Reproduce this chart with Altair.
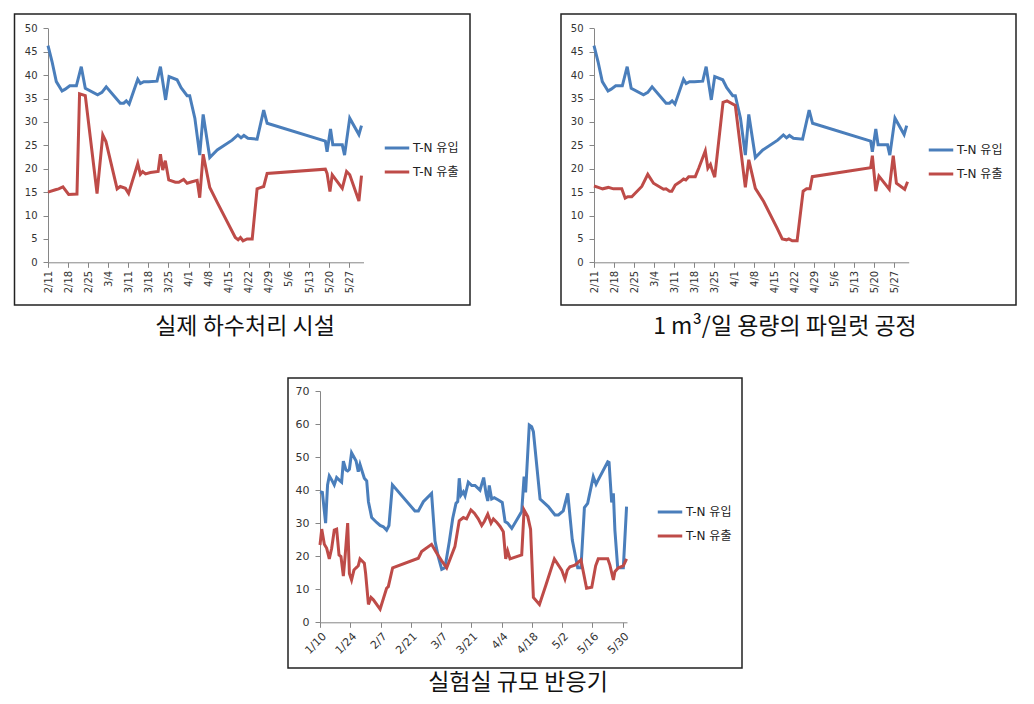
import altair as alt
import pandas as pd

# ---------------- data ----------------
YEAR = 2009
series_names = ["T-N 유입", "T-N 유출"]
captions = ["실제 하수처리 시설", "1 m³/일 용량의 파일럿 공정", "실험실 규모 반응기"]

# top panels: date axis 2/11 .. 6/1, tick every 7 days
plant_start, plant_end = "2/11", "6/1"
plant_ticks = ["2/11", "2/18", "2/25", "3/4", "3/11", "3/18", "3/25", "4/1",
               "4/8", "4/15", "4/22", "4/29", "5/6", "5/13", "5/20", "5/27"]
plant_y_ticks = [0, 5, 10, 15, 20, 25, 30, 35, 40, 45, 50]

# influent (same for full-scale plant and pilot), days after 2/11
inflow_days = [0, 1.4, 2.9, 4.9, 6.0, 7.6, 9.9, 11.6, 13.0, 17.3,
               18.8, 20.3, 25.2, 26.4, 27.3, 28.3, 31.3, 32.2, 33.4, 35.1,
               38.0, 39.2, 41.0, 42.2, 45.0, 46.4, 48.5, 49.4, 51.2, 52.9,
               54.1, 56.4, 59.0, 64.2, 66.2, 67.3, 68.3, 69.7, 72.9, 75.2,
               76.4, 96.7, 97.3, 98.5, 99.3, 102.6, 103.4, 105.2, 108.4, 109.3]
inflow_vals = [46.3, 42.9, 38.6, 36.6, 37.0, 37.7, 37.7, 41.8, 37.2, 35.8,
               36.3, 37.5, 34.0, 34.0, 34.5, 33.8, 39.1, 38.2, 38.6, 38.6,
               38.7, 41.8, 34.7, 39.7, 39.0, 37.3, 35.6, 35.6, 30.8, 22.9,
               31.6, 22.4, 24.0, 26.1, 27.2, 26.6, 27.1, 26.5, 26.3, 32.5,
               29.7, 25.9, 23.6, 28.5, 25.1, 25.1, 22.9, 30.8, 27.3, 29.2]

# effluent, full-scale plant
plant_out_days = [0, 2.6, 3.7, 5.2, 7.2, 10.1, 11.0, 13.0, 17.1, 19.1,
                  20.2, 24.1, 25.2, 27.0, 28.1, 31.3, 32.2, 33.0, 34.0, 35.7,
                  38.4, 39.2, 40.0, 40.9, 42.1, 44.4, 45.6, 47.3, 48.5, 50.2,
                  52.0, 52.9, 54.1, 56.4, 59.0, 65.3, 66.3, 67.1, 68.0, 69.4,
                  71.2, 72.9, 74.3, 75.2, 76.4, 96.7, 97.3, 98.3, 99.1, 102.6,
                  104.1, 105.2, 108.4, 109.3]
plant_out_vals = [15.0, 15.5, 15.7, 16.1, 14.5, 14.6, 36.0, 35.6, 14.7, 27.2,
                  25.8, 15.7, 16.2, 15.8, 14.7, 21.1, 18.8, 19.4, 18.9, 19.2,
                  19.4, 23.1, 19.7, 21.7, 17.6, 17.1, 17.1, 17.7, 16.9, 17.2,
                  17.5, 13.8, 23.1, 16.0, 12.8, 5.3, 4.8, 5.3, 4.6, 5.0,
                  5.0, 15.7, 16.0, 16.2, 19.0, 19.9, 19.0, 15.1, 18.7, 15.8,
                  19.4, 18.7, 13.1, 18.5]

# effluent, 1 m3/day pilot
pilot_out_days = [0, 1.5, 3.0, 5.0, 6.8, 9.7, 10.9, 11.8, 13.2, 16.7,
                  18.8, 20.8, 24.3, 25.2, 26.4, 27.2, 28.4, 30.1, 31.3, 32.1,
                  33.1, 35.4, 36.6, 38.9, 39.8, 40.7, 41.2, 42.2, 45.1, 46.5,
                  49.4, 52.9, 54.1, 56.4, 59.3, 64.0, 65.8, 67.3, 68.1, 69.3,
                  71.0, 73.1, 74.3, 75.5, 76.3, 96.7, 97.3, 98.5, 99.6, 103.2,
                  104.6, 105.7, 108.6, 109.6]
pilot_out_vals = [16.3, 16.0, 15.7, 16.0, 15.7, 15.7, 13.7, 14.0, 14.0, 16.2,
                  18.8, 16.9, 15.6, 15.7, 15.2, 15.2, 16.5, 17.2, 17.8, 17.6,
                  18.3, 18.3, 20.1, 23.8, 20.1, 20.9, 19.9, 18.2, 34.2, 34.5,
                  33.5, 16.0, 21.9, 15.8, 13.0, 7.3, 5.0, 4.8, 5.0, 4.6,
                  4.6, 15.2, 15.7, 15.7, 18.3, 20.2, 22.8, 15.2, 18.4, 15.6,
                  22.8, 16.9, 15.6, 17.2]

# bottom panel: lab-scale reactor, 1/10 .. 6/1, tick every 14 days
lab_start, lab_end = "1/10", "6/1"
lab_ticks = ["1/10", "1/24", "2/7", "2/21", "3/7", "3/21", "4/4", "4/18",
             "5/2", "5/16", "5/30"]
lab_y_ticks = [0, 10, 20, 30, 40, 50, 60, 70]

lab_in_days = [0, 1.1, 2.6, 3.5, 4.3, 5.4, 6.6, 7.7, 9.3, 10.0,
               10.8, 12.0, 12.8, 13.6, 14.6, 16.7, 17.7, 18.5, 19.3, 20.5,
               21.6, 22.4, 23.9, 26.2, 27.8, 29.3, 30.8, 31.9, 33.5, 43.9,
               45.5, 47.8, 51.6, 53.2, 54.7, 56.3, 57.8, 59.8, 61.4, 62.9,
               63.7, 64.4, 65.2, 66.3, 67.1, 68.6, 70.2, 71.7, 74.0, 75.7,
               76.8, 77.6, 78.3, 79.4, 80.6, 82.5, 84.3, 85.6, 86.8, 88.7,
               93.3, 94.4, 95.1, 96.8, 97.9, 98.7, 101.8, 105.6, 108.7, 110.3,
               112.5, 114.6, 116.7, 119.2, 120.7, 122.3, 123.8, 126.4, 127.7, 128.7,
               133.1, 133.7, 134.9, 135.7, 136.4, 137.7, 140.3, 141.8]
lab_in_vals = [39.5, 39.3, 30.0, 41.6, 44.3, 43.1, 41.6, 43.8, 42.8, 42.4,
               48.8, 46.1, 45.8, 46.3, 51.3, 48.8, 45.6, 47.8, 46.1, 43.6,
               42.8, 36.5, 31.7, 30.2, 29.3, 28.9, 27.9, 29.3, 41.6, 33.7,
               33.7, 36.5, 39.0, 24.6, 19.9, 16.0, 16.5, 24.4, 31.5, 36.0,
               36.5, 43.6, 38.5, 39.5, 38.3, 42.4, 41.4, 41.4, 40.0, 43.8,
               39.0, 36.7, 41.4, 37.3, 37.7, 37.0, 36.3, 30.5, 30.0, 28.4,
               33.5, 44.1, 39.3, 59.7, 59.2, 57.7, 37.3, 35.0, 32.5, 32.5,
               33.7, 39.0, 24.9, 16.5, 16.5, 34.7, 36.0, 44.1, 41.8, 43.1,
               48.6, 48.4, 36.3, 39.0, 27.9, 16.5, 16.5, 35.0]

lab_out_days = [0, 0.8, 2.0, 3.1, 4.3, 5.4, 6.6, 7.7, 8.8, 9.7,
                10.8, 11.6, 12.8, 13.6, 14.6, 15.7, 16.7, 17.7, 18.5, 20.5,
                21.1, 22.4, 23.6, 24.7, 27.8, 30.8, 31.6, 33.6, 45.5, 47.0,
                51.6, 54.0, 56.3, 58.6, 62.4, 64.4, 66.3, 67.8, 69.8, 71.4,
                73.2, 74.8, 76.0, 77.6, 79.1, 80.2, 81.7, 83.3, 84.8, 85.9,
                86.8, 87.9, 93.3, 94.4, 96.1, 97.4, 98.7, 101.5, 104.5, 108.4,
                111.8, 113.3, 114.4, 115.6, 117.9, 120.7, 123.3, 125.7, 127.5, 128.7,
                133.1, 134.1, 135.7, 136.4, 138.0, 140.3, 141.8]
lab_out_vals = [23.4, 28.2, 23.6, 22.4, 19.2, 22.4, 27.9, 28.2, 20.4, 19.9,
                14.0, 19.9, 30.0, 14.8, 12.8, 15.8, 16.5, 17.1, 19.2, 17.9,
                14.8, 5.4, 7.5, 6.8, 4.0, 10.3, 10.8, 16.5, 19.4, 21.4,
                23.6, 20.9, 18.6, 16.5, 22.9, 30.7, 31.7, 31.3, 34.0, 33.0,
                31.3, 29.3, 30.5, 32.7, 30.0, 31.3, 30.3, 29.0, 27.4, 19.2,
                21.6, 19.2, 20.4, 34.0, 32.0, 28.2, 7.5, 5.4, 11.3, 19.2,
                15.8, 13.1, 15.8, 16.8, 17.3, 18.9, 10.3, 10.6, 17.1, 19.2,
                19.2, 17.3, 12.8, 15.3, 16.5, 17.1, 19.2]

# ---------------- helpers ----------------
DAY_MS = 86_400_000
BLUE, RED = "#4A7EBB", "#BE4B48"
W, H = 1018, 688
NUM_FONT = "DejaVu Sans"
KR_FONT = "DejaVu Sans, Noto Sans CJK KR"
CAP_FONT = "Noto Sans CJK KR"


def utc_ms(md):
    m, d = md.split("/")
    return int(pd.Timestamp(year=YEAR, month=int(m), day=int(d), tz="UTC").value // 10**6)


def frame(start, in_days, in_vals, out_days, out_vals):
    s = utc_ms(start)
    a = pd.DataFrame({"t": [s + round(d * DAY_MS) for d in in_days],
                      "v": in_vals, "series": series_names[0]})
    b = pd.DataFrame({"t": [s + round(d * DAY_MS) for d in out_days],
                      "v": out_vals, "series": series_names[1]})
    return pd.concat([a, b], ignore_index=True)


def panel(df, start, end, ticks, ymax, yticks, xr, yr, angle, lx, ly, fs):
    return alt.Chart(df).mark_line(strokeWidth=3).encode(
        x=alt.X("t:T", title=None,
                scale=alt.Scale(type="utc", domain=[utc_ms(start), utc_ms(end)],
                                range=xr, nice=False),
                axis=alt.Axis(orient="bottom", offset=yr[0] - H,
                              values=[utc_ms(t) for t in ticks],
                              labelExpr="utcFormat(datum.value, '%-m/%-d')",
                              labelAngle=angle, labelPadding=3, tickSize=5,
                              labelFontSize=fs, grid=False, labelOverlap=False)),
        y=alt.Y("v:Q", title=None,
                scale=alt.Scale(domain=[0, ymax], range=yr, nice=False, zero=True),
                axis=alt.Axis(orient="left", offset=-xr[0], values=yticks,
                              labelFontSize=fs, tickSize=5, labelPadding=6,
                              grid=False)),
        color=alt.Color("series:N",
                        scale=alt.Scale(domain=series_names, range=[BLUE, RED]),
                        legend=alt.Legend(title=None, orient="none",
                                          legendX=lx, legendY=ly,
                                          symbolType="stroke", symbolStrokeWidth=3,
                                          symbolSize=600, padding=0, rowPadding=4,
                                          labelOffset=2, labelFont=KR_FONT,
                                          labelFontSize=12, labelColor="#222")),
        order=alt.Order("t:T"),
    )


def box(x1, x2, y1, y2):
    return alt.Chart(pd.DataFrame({"k": [0]})).mark_rect(
        filled=False, stroke="#222", strokeWidth=1.5
    ).encode(x=alt.value(x1), x2=alt.value(x2), y=alt.value(y1), y2=alt.value(y2))


def caption(text, x, y):
    return alt.Chart(pd.DataFrame({"k": [0]})).mark_text(
        font=CAP_FONT, fontSize=23, color="#111", align="center", baseline="middle"
    ).encode(x=alt.value(x), y=alt.value(y), text=alt.value(text))


plant_df = frame(plant_start, inflow_days, inflow_vals, plant_out_days, plant_out_vals)
pilot_df = frame(plant_start, inflow_days, inflow_vals, pilot_out_days, pilot_out_vals)
lab_df = frame(lab_start, lab_in_days, lab_in_vals, lab_out_days, lab_out_vals)

pa = panel(plant_df, plant_start, plant_end, plant_ticks, 50, plant_y_ticks,
           [40, 355.5], [254.3, 20.3], 270, 375, 126, 10)
pb = panel(pilot_df, plant_start, plant_end, plant_ticks, 50, plant_y_ticks,
           [586, 900.7], [254.3, 20.3], 270, 919, 128, 10)
pc = panel(lab_df, lab_start, lab_end, lab_ticks, 70, lab_y_ticks,
           [312, 619], [614.3, 383], 315, 648, 490, 11)

chart = alt.layer(
    box(6.5, 462, 6, 297), box(553, 1008, 6, 297), box(280, 734, 370, 660),
    caption(captions[0], 237, 319), caption(captions[1], 777, 319),
    caption(captions[2], 510, 675),
    pa, pb, pc,
).resolve_scale(
    x="independent", y="independent", color="independent"
).resolve_axis(
    x="independent", y="independent"
).resolve_legend(
    color="independent"
).properties(
    width=W, height=H, padding=0, autosize=alt.AutoSizeParams(type="none")
).configure_view(
    stroke=None
).configure_axis(
    domainColor="#868686", tickColor="#868686", labelColor="#333",
    labelFont=NUM_FONT, labelFontSize=10, domainWidth=1, tickWidth=1
)

chart.save("out.html", embed_options={"renderer": "svg", "actions": False})
